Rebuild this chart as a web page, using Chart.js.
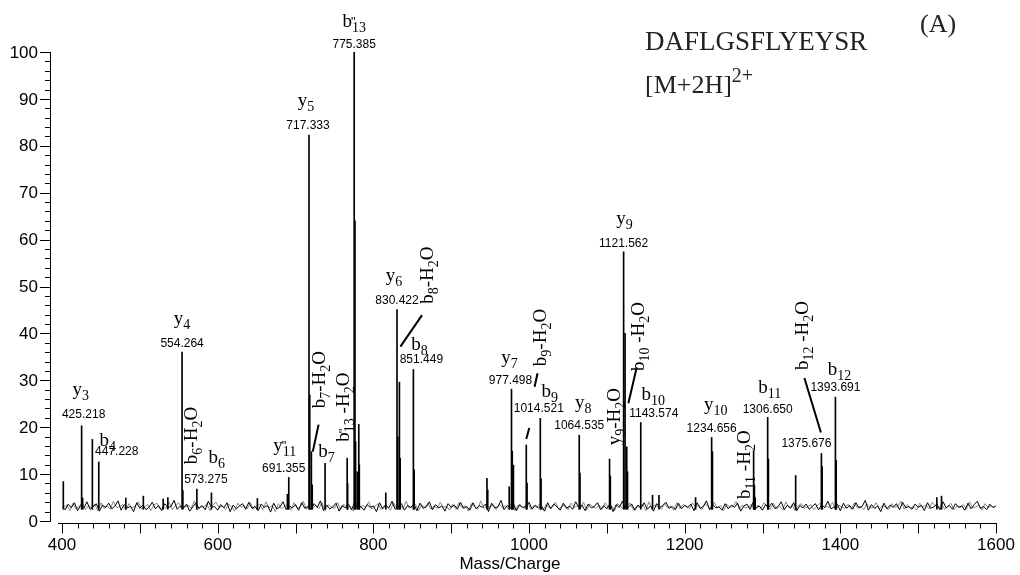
<!DOCTYPE html>
<html>
<head>
<meta charset="utf-8">
<script src="https://cdn.jsdelivr.net/npm/chart.js@4.4.1/dist/chart.umd.min.js"></script>
<style>
  html, body { margin: 0; padding: 0; background: #fff; }
  #wrap { width: 1020px; height: 575px; }
</style>
</head>
<body>
<div id="wrap"><canvas id="spectrum"></canvas></div>
<script>
// peak list (m/z, relative intensity %)
const peakMz = [401.7, 425.218, 426.5, 439.0, 447.228, 482.0, 504.5, 530.0, 536.0, 554.264, 555.3, 573.275,
  592.0, 651.0, 689.6, 691.355, 717.333, 718.3, 720.4, 721.5, 738.0, 766.4, 767.0, 775.385, 776.4, 777.2,
  779.4, 781.3, 782.0, 816.0, 830.422, 831.4, 833.5, 834.5, 851.449, 852.5, 946.0, 947.0, 974.6, 977.498,
  978.5, 980.0, 996.5, 997.5, 1014.521, 1015.5, 1064.535, 1065.5, 1103.5, 1104.5, 1121.562, 1123.4, 1125.6,
  1126.6, 1143.574, 1158.7, 1167.0, 1214.0, 1234.656, 1235.7, 1288.6, 1289.6, 1290.6, 1306.650, 1307.6,
  1342.6, 1375.676, 1376.6, 1393.691, 1394.7, 1524.0, 1530.0];
const peakInt = [8.4, 20.3, 4.9, 17.4, 12.6, 4.9, 5.3, 4.7, 5.0, 36.0, 6.5, 6.8,
  6.0, 4.8, 5.7, 9.3, 82.3, 26.9, 14.8, 7.7, 12.3, 13.4, 8.0, 100, 64.0, 16.9,
  10.5, 20.6, 12.0, 6.0, 45.1, 17.9, 29.6, 13.4, 32.3, 10.9, 9.1, 6.6, 7.3, 28.1,
  14.9, 11.9, 16.2, 8.1, 21.9, 9.0, 18.3, 10.2, 13.2, 9.6, 57.4, 40.0, 15.8,
  10.5, 21.0, 5.5, 5.5, 5.0, 17.8, 14.8, 15.0, 7.5, 5.0, 22.1, 13.2,
  9.7, 14.4, 11.6, 26.4, 12.9, 5.0, 5.3];

// baseline noise, one reading every 4 m/z (black trace from 400, grey trace from 402)
const noiseStart = 400;
const noiseGreyStart = 402;
const noiseStep = 4;
const noise = [
  3.1, 2.4, 3.6, 2.8, 3.9, 2.2, 3.3, 2.7, 4.1, 2.5, 3.0, 3.7, 2.1, 3.4, 2.9, 3.8, 2.6, 3.2, 4.3, 2.3,
  3.5, 2.8, 3.1, 2.0, 3.9, 2.7, 3.4, 2.4, 3.0, 4.0, 2.6, 3.3, 2.2, 3.7, 2.9, 3.1, 4.4, 2.5, 3.2, 2.8,
  3.6, 2.1, 3.0, 3.8, 2.7, 3.3, 2.4, 4.2, 2.9, 3.1, 2.3, 3.5, 2.8, 3.9, 2.0, 3.4, 2.6, 3.2, 3.7, 2.5,
  4.0, 2.7, 3.1, 2.2, 3.6, 2.9, 3.3, 1.9, 3.8, 2.6, 3.0, 4.1, 2.4, 3.2, 2.8, 3.5, 2.3, 3.9, 2.7, 3.1,
  2.5, 3.7, 2.9, 4.3, 2.2, 3.4, 2.6, 3.0, 3.8, 2.1, 3.3, 2.8, 3.6, 2.4, 4.0, 2.7, 3.1, 2.3, 3.5, 2.9,
  3.2, 2.0, 3.9, 2.6, 3.4, 2.8, 4.2, 2.5, 3.1, 3.7, 2.3, 3.3, 2.9, 3.6, 2.2, 3.8, 2.7, 3.0, 4.1, 2.4,
  3.5, 2.8, 3.2, 2.1, 3.7, 2.9, 3.4, 2.5, 4.0, 2.7, 3.1, 2.3, 3.9, 2.6, 3.3, 2.9, 3.6, 2.0, 3.8, 2.8,
  3.0, 4.4, 2.4, 3.3, 2.7, 3.7, 2.2, 3.5, 2.9, 3.1, 4.0, 2.5, 3.4, 2.8, 3.2, 2.1, 3.9, 2.6, 3.6, 3.0,
  2.3, 3.8, 2.7, 3.2, 2.5, 4.1, 2.9, 3.4, 2.2, 3.6, 2.8, 3.1, 3.9, 2.4, 3.3, 2.6, 3.7, 2.0, 3.5, 2.9,
  4.2, 2.6, 3.0, 3.6, 2.3, 3.4, 2.8, 3.9, 2.5, 3.2, 2.1, 3.7, 2.9, 3.3, 4.0, 2.7, 3.1, 2.4, 3.8, 2.6,
  3.3, 2.9, 3.6, 2.2, 3.9, 2.7, 3.1, 4.3, 2.4, 3.5, 2.8, 3.0, 2.3, 3.7, 2.6, 3.4, 2.9, 3.8, 2.1, 3.2,
  3.6, 2.5, 4.0, 2.8, 3.2, 2.3, 3.5, 2.9, 3.8, 2.6, 3.1, 4.1, 2.4, 3.4, 2.7, 3.9, 2.2, 3.3, 2.8, 3.6,
  2.5, 3.1, 3.7, 2.4, 3.4, 2.9, 4.2, 2.6, 3.0, 3.6, 2.2, 3.8, 2.7, 3.3, 2.5, 3.9, 2.8, 3.1, 4.4, 2.3,
  3.5, 2.7, 3.2, 2.0, 3.8, 2.6, 3.4, 2.9, 3.7, 2.4, 4.0, 2.8, 3.1, 2.5, 3.6, 2.9, 3.3, 2.2, 3.9, 2.7,
  3.0, 3.6, 2.4, 4.1, 2.8, 3.3, 2.5, 3.7, 2.9, 3.2, 2.3, 3.8, 2.6, 3.5, 4.2, 2.7, 3.1, 2.4, 3.6, 2.9, 3.2
];
const noiseGrey = [
  2.9, 3.4, 2.2, 3.8, 2.6, 3.1, 4.0, 2.4, 3.3, 2.8, 3.6, 2.1, 3.9, 2.7, 3.2, 2.5, 4.2, 2.9, 3.0, 3.5,
  2.3, 3.7, 2.8, 3.2, 4.1, 2.6, 2.9, 3.6, 2.2, 3.4, 3.8, 2.5, 3.1, 2.7, 4.0, 2.4, 3.3, 3.9, 2.6, 3.0,
  3.4, 2.7, 4.3, 2.3, 3.1, 2.9, 3.7, 2.2, 3.5, 4.0, 2.8, 3.2, 2.4, 3.6, 3.0, 2.1, 3.8, 2.9, 3.3, 2.6,
  3.9, 2.5, 3.2, 3.6, 2.4, 4.1, 2.8, 3.3, 2.0, 3.7, 2.6, 3.1, 3.5, 2.3, 3.9, 2.7, 3.0, 4.2, 2.5, 3.4,
  2.8, 3.3, 2.6, 3.9, 2.2, 3.5, 3.0, 2.7, 4.0, 2.4, 3.6, 2.9, 3.2, 2.1, 3.8, 2.6, 3.4, 2.8, 4.1, 2.5,
  3.1, 3.7, 2.4, 3.3, 2.9, 2.3, 3.9, 2.7, 3.5, 2.6, 4.2, 2.8, 3.0, 3.6, 2.2, 3.4, 2.9, 3.8, 2.5, 3.2,
  2.7, 4.0, 2.9, 3.1, 2.3, 3.6, 2.6, 3.9, 2.8, 3.3, 2.1, 3.7, 3.0, 2.5, 4.3, 2.7, 3.2, 2.9, 3.5, 2.4,
  3.6, 2.8, 3.3, 2.5, 3.9, 2.2, 3.4, 3.0, 2.7, 4.1, 2.6, 3.2, 2.9, 3.7, 2.3, 3.5, 2.8, 3.1, 4.0, 2.6,
  3.0, 3.5, 2.4, 3.8, 2.9, 3.2, 2.6, 4.0, 2.3, 3.6, 3.1, 2.7, 3.4, 2.5, 3.9, 2.8, 3.3, 2.2, 3.7, 3.0,
  2.6, 3.3, 3.8, 2.4, 3.1, 2.9, 3.6, 2.2, 4.1, 2.7, 3.4, 3.0, 2.5, 3.8, 2.8, 3.2, 2.3, 3.9, 2.7, 3.5,
  3.2, 2.6, 3.9, 2.9, 3.4, 2.4, 3.7, 3.1, 2.5, 4.0, 2.8, 3.3, 2.2, 3.6, 2.9, 3.1, 4.2, 2.6, 3.4, 2.8,
  2.9, 3.6, 2.3, 3.4, 2.7, 3.9, 3.0, 2.5, 3.8, 2.6, 3.2, 2.4, 4.1, 2.8, 3.5, 2.2, 3.3, 3.7, 2.7, 3.0,
  3.5, 2.4, 3.2, 3.8, 2.6, 3.1, 2.9, 4.0, 2.3, 3.4, 3.0, 2.7, 3.6, 2.5, 3.9, 2.8, 3.2, 2.4, 3.7, 2.9,
  2.8, 3.9, 2.6, 3.3, 3.0, 2.4, 3.7, 2.9, 3.2, 4.2, 2.5, 3.5, 2.7, 3.1, 2.3, 3.8, 2.9, 3.4, 2.6, 4.0,
  3.3, 2.7, 3.6, 2.5, 3.1, 3.8, 2.4, 3.2, 2.9, 3.5, 2.6, 4.1, 2.8, 3.0, 3.4, 2.3, 3.7, 2.9, 3.2, 2.7
];

// fragment annotations: ion name (_ = subscript, " = double prime), peak m/z, printed m/z
const ionNames = ['y_3', 'b_4', 'y_4', 'b_6-H_2O', 'b_6', 'y"_11', 'y_5', 'b_7-H_2O', 'b_7', 'b"_13 -H_2O',
  'b"_13', 'y_6', 'b_8-H_2O', 'b_8', 'y_7', 'b_9-H_2O', 'b_9', 'y_8', 'y_9-H_2O', 'y_9', 'b_10 -H_2O',
  'b_10', 'y_10', 'b_11 -H_2O', 'b_11', 'b_12 -H_2O', 'b_12'];
const ionMz = [425.218, 447.228, 554.264, 555.3, 573.275, 691.355, 717.333, 720.4, 738.0, 766.4,
  775.385, 830.422, 833.5, 851.449, 977.498, 996.5, 1014.521, 1064.535, 1103.5, 1121.562, 1125.6,
  1143.574, 1234.656, 1288.6, 1306.650, 1375.676, 1393.691];
const ionMzText = ['425.218', '447.228', '554.264', '', '573.275', '691.355', '717.333', '', '', '',
  '775.385', '830.422', '', '851.449', '977.498', '', '1014.521', '1064.535', '', '1121.562', '',
  '1143.574', '1234.656', '', '1306.650', '1375.676', '1393.691'];

const xTicks = [400, 600, 800, 1000, 1200, 1400, 1600];
const yTicks = [0, 10, 20, 30, 40, 50, 60, 70, 80, 90, 100];

// label placement, pixel offsets from the top of each annotated peak
const labelLayout = [
  { ion: [-1, -31], num: [2, -8] },
  { ion: [9, -16], num: [18, -7] },
  { ion: [0, -28], num: [0, -5] },
  { rot: [10, -55] },
  { ion: [20, -26], num: [9, -6] },
  { ion: [-4, -26], num: [-5, -5] },
  { ion: [-3, -29], num: [-1, -6] },
  { rot: [9, -72], lines: [[1.4, 0, 7.2, -27]] },
  { ion: [1.5, -6] },
  { rot: [-2.5, -51] },
  { ion: [0, -25], num: [0, -4] },
  { ion: [-3, -28], num: [0, -5] },
  { rot: [29, -107], lines: [[1, -35.5, 22.6, -67]] },
  { ion: [6, -19.5], num: [8, -6.5] },
  { ion: [-2, -26], num: [-1, -5] },
  { rot: [15, -107.5], lines: [[11.3, -71.7, 8.3, -58.3], [3, -17, 0, -6]] },
  { ion: [9.5, -21], num: [-1.5, -6] },
  { ion: [4, -27], num: [0, -6] },
  { rot: [6, -42.5] },
  { ion: [1, -28], num: [0, -5] },
  { rot: [12.8, -110.4], lines: [[1.6, -43.6, 10, -79.6]] },
  { ion: [12.6, -22.5], num: [13, -5.5] },
  { ion: [4, -27.5], num: [0, -5.5] },
  { rot: [-8, 14] },
  { ion: [2, -24], num: [0, -4.5] },
  { rot: [-18, -118], num: [-15, -6.5], lines: [[-17, -75.5, -0.5, -21]] },
  { ion: [4, -22], num: [0, -6] }
];

const SERIF = '"Liberation Serif", "Times New Roman", serif';
const SANS = '"Liberation Sans", Arial, sans-serif';
const mainFont = '19px ' + SERIF;
const subFont = '14px ' + SERIF;

function parseIon(s) {
  const segs = [];
  let buf = '';
  for (let i = 0; i < s.length; i++) {
    const c = s[i];
    if (c === '_') {
      if (buf) { segs.push({ t: buf, k: 'n' }); buf = ''; }
      let d = '';
      while (i + 1 < s.length && /[0-9]/.test(s[i + 1])) { d += s[++i]; }
      segs.push({ t: d, k: 'sub' });
    } else if (c === '"') {
      if (buf) { segs.push({ t: buf, k: 'n' }); buf = ''; }
      segs.push({ t: '"', k: 'prime' });
    } else {
      buf += c;
    }
  }
  if (buf) segs.push({ t: buf, k: 'n' });
  return segs;
}

function ionWidth(ctx, segs) {
  let w = 0;
  segs.forEach(s => {
    if (s.k === 'prime') return;
    ctx.font = s.k === 'sub' ? subFont : mainFont;
    w += ctx.measureText(s.t).width;
  });
  return w;
}

// draws an ion name starting at x on baseline y
function drawIon(ctx, segs, x, y) {
  ctx.textAlign = 'left';
  ctx.textBaseline = 'alphabetic';
  segs.forEach(s => {
    if (s.k === 'prime') {
      ctx.font = '13px ' + SANS;
      ctx.fillText(s.t, x - 1, y - 1);
      return;
    }
    ctx.font = s.k === 'sub' ? subFont : mainFont;
    ctx.fillText(s.t, x, s.k === 'sub' ? y + 5 : y);
    x += ctx.measureText(s.t).width;
  });
}

const spectrumDecor = {
  id: 'spectrumDecor',
  afterDraw(chart) {
    const ctx = chart.ctx;
    const xs = chart.scales.x;
    const ys = chart.scales.y;
    ctx.save();
    ctx.fillStyle = '#000';
    ctx.strokeStyle = '#000';

    // y axis
    const axX = xs.left - 12;
    ctx.lineWidth = 1;
    ctx.beginPath();
    ctx.moveTo(axX + 0.5, ys.getPixelForValue(100));
    ctx.lineTo(axX + 0.5, ys.getPixelForValue(0) + 0.5);
    for (let v = 0; v <= 100; v += 2) {
      const py = Math.round(ys.getPixelForValue(v)) + 0.5;
      ctx.moveTo(axX + 0.5, py);
      ctx.lineTo(axX - (v % 10 === 0 ? 10 : 5), py);
    }
    ctx.stroke();
    ctx.font = '17px ' + SANS;
    ctx.textAlign = 'right';
    ctx.textBaseline = 'middle';
    yTicks.forEach(v => ctx.fillText(String(v), axX - 12, ys.getPixelForValue(v) + 1));

    // x axis
    const axY = Math.round(ys.getPixelForValue(0)) + 2.5;
    ctx.beginPath();
    ctx.moveTo(xs.getPixelForValue(400) - 4, axY);
    ctx.lineTo(xs.getPixelForValue(1600) + 1, axY);
    for (let v = 400; v <= 1600; v += 20) {
      const px = Math.round(xs.getPixelForValue(v)) + 0.5;
      ctx.moveTo(px, axY);
      ctx.lineTo(px, axY + (v % 100 === 0 ? 10 : 5));
    }
    ctx.stroke();
    ctx.textAlign = 'center';
    ctx.textBaseline = 'alphabetic';
    xTicks.forEach(v => ctx.fillText(String(v), xs.getPixelForValue(v), 550));
    ctx.font = '17px ' + SANS;
    ctx.fillText('Mass/Charge', chart.width / 2, 569);

    // peak annotations
    ionNames.forEach((name, i) => {
      const lay = labelLayout[i];
      const k = peakMz.indexOf(ionMz[i]);
      const ax = xs.getPixelForValue(ionMz[i]);
      const ay = ys.getPixelForValue(peakInt[k]);
      const segs = parseIon(name);
      const w = ionWidth(ctx, segs);
      if (lay.ion) {
        drawIon(ctx, segs, ax + lay.ion[0] - w / 2, ay + lay.ion[1]);
      }
      if (lay.rot) {
        ctx.save();
        ctx.translate(ax + lay.rot[0], ay + lay.rot[1]);
        ctx.rotate(-Math.PI / 2);
        drawIon(ctx, segs, -w / 2, 4.5);
        ctx.restore();
      }
      if (lay.num && ionMzText[i]) {
        ctx.font = '12px ' + SANS;
        ctx.textAlign = 'center';
        ctx.textBaseline = 'alphabetic';
        ctx.fillText(ionMzText[i], ax + lay.num[0], ay + lay.num[1]);
      }
      if (lay.lines) {
        ctx.lineWidth = 2;
        ctx.beginPath();
        lay.lines.forEach(l => {
          ctx.moveTo(ax + l[0], ay + l[1]);
          ctx.lineTo(ax + l[2], ay + l[3]);
        });
        ctx.stroke();
      }
    });

    // peptide header
    ctx.textAlign = 'left';
    ctx.textBaseline = 'alphabetic';
    ctx.fillStyle = '#222';
    ctx.font = '27px ' + SERIF;
    ctx.fillText('DAFLGSFLYEYSR', 645, 50);
    ctx.font = '26px ' + SERIF;
    ctx.fillText('[M+2H]', 645, 93);
    const bw = ctx.measureText('[M+2H]').width;
    ctx.font = '20px ' + SERIF;
    ctx.fillText('2+', 645 + bw, 82);
    ctx.font = '26px ' + SERIF;
    ctx.fillText('(A)', 920, 32);
    ctx.restore();
  }
};

const noisePoints = noise.map((v, i) => ({ x: noiseStart + i * noiseStep, y: v }));
const noiseGreyPoints = noiseGrey.map((v, i) => ({ x: noiseGreyStart + i * noiseStep, y: v }));
const peakPoints = peakMz.map((m, i) => ({ x: m, y: peakInt[i] }));

new Chart(document.getElementById('spectrum'), {
  type: 'bar',
  data: {
    datasets: [{
      type: 'line',
      data: noiseGreyPoints,
      borderColor: '#888',
      borderWidth: 1,
      pointRadius: 0,
      tension: 0,
      order: 3
    }, {
      type: 'line',
      data: noisePoints,
      borderColor: '#000',
      borderWidth: 1,
      pointRadius: 0,
      tension: 0,
      order: 2
    }, {
      type: 'bar',
      data: peakPoints,
      backgroundColor: '#000',
      barThickness: 1,
      base: 2.5,
      order: 1
    }]
  },
  options: {
    responsive: true,
    maintainAspectRatio: false,
    animation: false,
    devicePixelRatio: 1,
    layout: { padding: { left: 62, right: 24, top: 52, bottom: 54 } },
    plugins: { legend: { display: false }, tooltip: { enabled: false } },
    scales: {
      x: { type: 'linear', min: 400, max: 1600, offset: false, display: false },
      y: { min: 0, max: 100, display: false }
    }
  },
  plugins: [spectrumDecor]
});
</script>
</body>
</html>
